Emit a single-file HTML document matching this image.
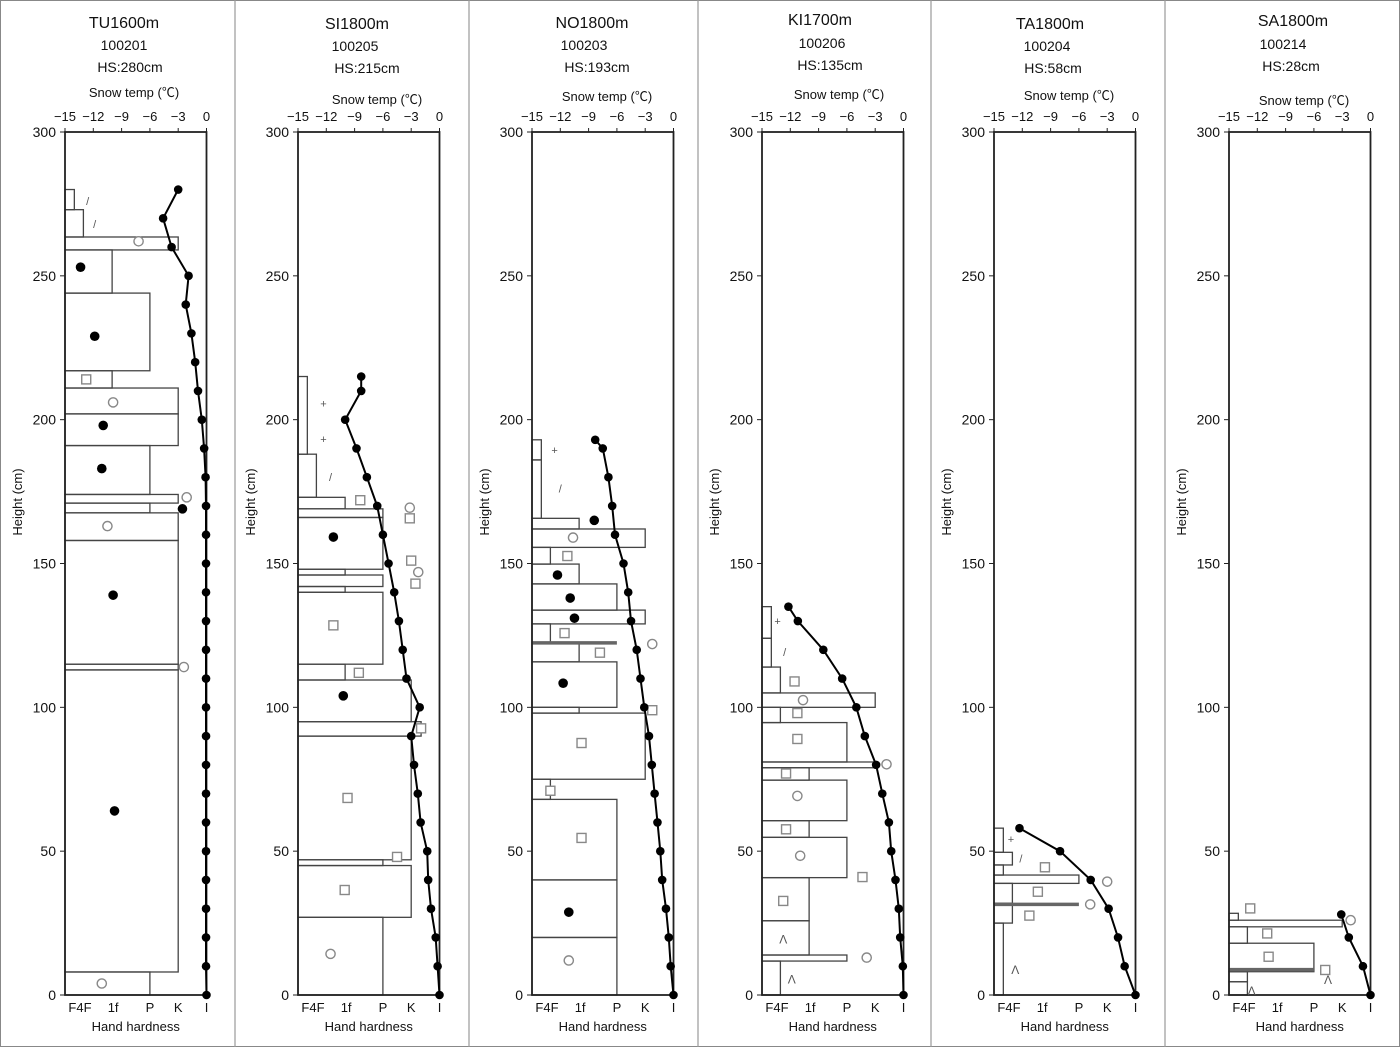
<!DOCTYPE html>
<html><head><meta charset="utf-8"><style>
body{margin:0;background:#fff;}
svg{display:block;font-family:"Liberation Sans","Noto Sans CJK JP",sans-serif;}
</style></head><body>
<svg id="chart" width="1400" height="1047" viewBox="0 0 1400 1047"></svg>
<script>
// ---- data ----
const panelTitles = ["TU1600m","SI1800m","NO1800m","KI1700m","TA1800m","SA1800m"];
const panelCodes = ["100201","100205","100203","100206","100204","100214"];
const panelHS = ["HS:280cm","HS:215cm","HS:193cm","HS:135cm","HS:58cm","HS:28cm"];
const yTicks = [0,50,100,150,200,250,300];
const tempTicks = [-15,-12,-9,-6,-3,0];
const hardLabels = ["F4F","1f","P","K","I"];
const hardLabelPos = [0.106,0.34,0.6,0.8,1.0];
const hardnessLevels = {F:0.066,"4F":0.13,"1F":0.333,P:0.6,K:0.8,"K+":0.87,I:1};

const p1Layers = [[280,273,"F"],[273,263.5,"4F"],[263.5,259,"K"],[259,244,"1F"],[244,217,"P"],[217,211,"1F"],[211,202,"K"],[202,191,"K"],[191,174,"P"],[174,171,"K"],[171,167.6,"P"],[167.6,158,"K"],[158,115,"K"],[115,113,"K"],[113,8,"K"],[8,0,"P"]];
const p2Layers = [[215,188,"F"],[188,173,"4F"],[173,169,"1F"],[169,166,"P"],[166,148,"P"],[148,146,"1F"],[146,142,"P"],[142,140,"1F"],[140,115,"P"],[115,109.5,"1F"],[109.5,95,"K"],[95,90,"K+"],[90,47,"K"],[47,45,"P"],[45,27,"K"],[27,0,"P"]];
const p3Layers = [[193,186,"F"],[186,165.7,"F"],[165.7,162,"1F"],[162,155.6,"K"],[155.6,149.8,"4F"],[149.8,142.9,"1F"],[142.9,133.8,"P"],[133.8,129,"K"],[129,122.6,"4F"],[122.3,115.8,"1F"],[115.8,100,"P"],[100,98,"1F"],[98,75,"K"],[75,68,"4F"],[68,40,"P"],[40,20,"P"],[20,0,"P"]];
const p4Layers = [[135,124,"F"],[124,114,"F"],[114,105,"4F"],[105,100,"K"],[100,94.7,"4F"],[94.7,81,"P"],[81,79,"K"],[79,74.7,"1F"],[74.7,60.6,"P"],[60.6,54.8,"1F"],[54.8,40.8,"P"],[40.8,25.8,"1F"],[25.8,13.9,"1F"],[13.9,11.8,"P"],[11.8,0,"4F"]];
const p5Layers = [[58,49.6,"F"],[49.6,45.2,"4F"],[45.2,41.7,"F"],[41.7,38.8,"P"],[38.8,31.9,"4F"],[31.9,25,"4F"],[25,0,"F"]];
const p6Layers = [[28.4,26,"F"],[26,23.7,"K"],[23.7,18,"4F"],[18,8.1,"P"],[8.1,4.6,"4F"],[4.6,0,"4F"]];
const p3Ice = [[122.4,"P"]];
const p5Ice = [[31.5,"P"]];
const p6Ice = [[8.8,"P"]];

const p1TempH = [280,270,260,250,240,230,220,210,200,190,180,170,160,150,140,130,120,110,100,90,80,70,60,50,40,30,20,10,0];
const p1TempV = [-3,-4.6,-3.7,-1.9,-2.2,-1.6,-1.2,-0.9,-0.5,-0.25,-0.1,-0.05,-0.05,-0.05,-0.05,-0.05,-0.05,-0.05,-0.05,-0.05,-0.05,-0.05,-0.05,-0.05,-0.05,-0.05,-0.05,-0.05,0];
const p2TempH = [215,210,200,190,180,170,160,150,140,130,120,110,100,90,80,70,60,50,40,30,20,10,0];
const p2TempV = [-8.3,-8.3,-10,-8.8,-7.7,-6.6,-6,-5.4,-4.8,-4.3,-3.9,-3.5,-2.1,-3.0,-2.7,-2.3,-2.0,-1.3,-1.2,-0.9,-0.4,-0.2,0];
const p3TempH = [193,190,180,170,160,150,140,130,120,110,100,90,80,70,60,50,40,30,20,10,0];
const p3TempV = [-8.3,-7.5,-6.9,-6.5,-6.2,-5.3,-4.8,-4.5,-3.9,-3.5,-3.1,-2.6,-2.3,-2.0,-1.7,-1.4,-1.2,-0.8,-0.5,-0.3,0];
const p4TempH = [135,130,120,110,100,90,80,70,60,50,40,30,20,10,0];
const p4TempV = [-12.2,-11.2,-8.5,-6.5,-5.0,-4.1,-2.9,-2.25,-1.55,-1.3,-0.85,-0.5,-0.35,-0.07,0];
const p5TempH = [58,50,40,30,20,10,0];
const p5TempV = [-12.3,-8.0,-4.75,-2.85,-1.85,-1.15,0];
const p6TempH = [28,20,10,0];
const p6TempV = [-3.1,-2.3,-0.8,0];

// grains: [height cm, hardness-axis position, type]
const p1Grains = [[276,.16,"/"],[268,.21,"/"],[262,.52,"o"],[253,.11,"f"],[229,.21,"f"],[214,.15,"s"],[206,.34,"o"],[198,.27,"f"],[183,.26,"f"],[173,.86,"o"],[169,.83,"f"],[163,.30,"o"],[139,.34,"f"],[114,.84,"o"],[64,.35,"f"],[4,.26,"o"]];
const p2Grains = [[205.7,.18,"+"],[193.2,.18,"+"],[180,.23,"/"],[172,.44,"s"],[169.4,.79,"o"],[165.7,.79,"s"],[159.2,.25,"f"],[151,.80,"s"],[147,.85,"o"],[143,.83,"s"],[128.5,.25,"s"],[112,.43,"s"],[104,.32,"f"],[92.7,.87,"s"],[68.5,.35,"s"],[48,.70,"s"],[36.5,.33,"s"],[14.3,.23,"o"]];
const p3Grains = [[189.4,.16,"+"],[176,.20,"/"],[165,.44,"f"],[159,.29,"o"],[152.6,.25,"s"],[146,.18,"f"],[138,.27,"f"],[131,.30,"f"],[125.8,.23,"s"],[122,.85,"o"],[119,.48,"s"],[108.4,.22,"f"],[99,.85,"s"],[87.6,.35,"s"],[71,.13,"s"],[54.6,.35,"s"],[28.8,.26,"f"],[12,.26,"o"]];
const p4Grains = [[130,.11,"+"],[119.3,.16,"/"],[109,.23,"s"],[102.5,.29,"o"],[98,.25,"s"],[89,.25,"s"],[80.2,.88,"o"],[77,.17,"s"],[69.2,.25,"o"],[57.6,.17,"s"],[48.4,.27,"o"],[41,.71,"s"],[32.7,.15,"s"],[19.7,.15,"^"],[13,.74,"o"],[5.8,.21,"^"]];
const p5Grains = [[54.2,.12,"+"],[47.5,.19,"/"],[44.4,.36,"s"],[39.4,.80,"o"],[35.9,.31,"s"],[31.5,.68,"o"],[27.6,.25,"s"],[9,.15,"^"]];
const p6Grains = [[30.1,.15,"s"],[26,.86,"o"],[21.4,.27,"s"],[13.3,.28,"s"],[8.7,.68,"s"],[5.6,.70,"^"],[1.7,.16,"^"]];

const allLayers=[p1Layers,p2Layers,p3Layers,p4Layers,p5Layers,p6Layers];
const allIce=[[],[],p3Ice,[],p5Ice,p6Ice];
const allTempH=[p1TempH,p2TempH,p3TempH,p4TempH,p5TempH,p6TempH];
const allTempV=[p1TempV,p2TempV,p3TempV,p4TempV,p5TempV,p6TempV];
const allGrains=[p1Grains,p2Grains,p3Grains,p4Grains,p5Grains,p6Grains];

// ---- layout ----
const plotLefts=[65,298,532,762,994,1229];
const plotW=141.5, plotTop=132, plotBot=995;
const titleY=[[22,45,67,92],[23,46,68,99],[22,45,67,96],[19,43,65,94],[23,46,68,95],[20,44,66,100]];
const titleX=[[124,124,130,134],[357,355,367,377],[592,584,597,607],[820,822,830,839],[1050,1047,1053,1069],[1293,1283,1291,1304]];
const seps=[235,469,698,931,1165];

const NS="http://www.w3.org/2000/svg";
const svg=document.getElementById("chart");
function mk(tag,attrs,parent,name,inter){
  const e=document.createElementNS(NS,tag);
  for(const k in attrs)e.setAttribute(k,attrs[k]);
  
  
  (parent||svg).appendChild(e);return e;
}
function txt(x,y,s,size,anchor,parent,name){
  const t=mk("text",{x:x,y:y,"font-size":size,"text-anchor":anchor||"middle",fill:"#111"},parent,name,false);
  t.textContent=s;return t;
}
mk("rect",{x:0.5,y:0.5,width:1399,height:1046,fill:"none",stroke:"#888","stroke-width":1},svg,"figure-border",false);
seps.forEach(x=>{mk("line",{x1:x,y1:0,x2:x,y2:1047,stroke:"#999","stroke-width":1.2},svg,"panel-separator",false);});

for(let p=0;p<6;p++){
  const L=plotLefts[p];
  const g=mk("g",{},svg,"panel-"+panelTitles[p].toLowerCase(),false);
  const yS=cm=>plotBot-cm*(plotBot-plotTop)/300;
  const tS=t=>L+plotW+t*plotW/15;
  const hS=f=>L+f*plotW;
  txt(titleX[p][0],titleY[p][0]+6,panelTitles[p],16,"middle",g,"panel-title");
  txt(titleX[p][1],titleY[p][1]+5,panelCodes[p],14,"middle",g,"date-code");
  txt(titleX[p][2],titleY[p][2]+5,panelHS[p],14,"middle",g,"snow-height-label");
  txt(titleX[p][3],titleY[p][3]+5,"Snow temp (℃)",13,"middle",g,"x-top-axis-title");
  tempTicks.forEach(t=>{
    txt(tS(t),121,(t<0?"−":"")+Math.abs(t),13,"middle",g,"temp-tick-label");
    mk("line",{x1:tS(t),y1:plotTop,x2:tS(t),y2:plotTop-4,stroke:"#222"},g,"temp-tick",false);
  });
  yTicks.forEach(v=>{
    txt(L-9,yS(v)+5,String(v),14,"end",g,"y-tick-label");
    mk("line",{x1:L,y1:yS(v),x2:L-5,y2:yS(v),stroke:"#222"},g,"y-tick",false);
  });
  const yt=txt(0,0,"Height (cm)",13,"middle",g,"y-axis-title");
  yt.setAttribute("transform","translate("+(L-43)+",502) rotate(-90)");
  hardLabels.forEach((s,i)=>{txt(hS(hardLabelPos[i]),1012,s,13,"middle",g,"hardness-tick-label");});
  txt(L+plotW/2,1031,"Hand hardness",13,"middle",g,"x-bottom-axis-title");
  allLayers[p].forEach(l=>{
    const x2=hS(hardnessLevels[l[2]]);
    mk("rect",{x:L,y:yS(l[0]),width:x2-L,height:yS(l[1])-yS(l[0]),fill:"none",stroke:"#444","stroke-width":1.3},g,"hardness-layer",false);
  });
  allIce[p].forEach(l=>{
    mk("line",{x1:L,y1:yS(l[0]),x2:hS(hardnessLevels[l[1]]),y2:yS(l[0]),stroke:"#666","stroke-width":3.5},g,"ice-layer",false);
  });
  mk("rect",{x:L,y:plotTop,width:plotW,height:plotBot-plotTop,fill:"none",stroke:"#222","stroke-width":1.8},g,"plot-frame",false);
  allGrains[p].forEach(s=>{
    const x=hS(s[1]),y=yS(s[0]);
    if(s[2]==="o")mk("circle",{cx:x,cy:y,r:4.6,fill:"#fff",stroke:"#888","stroke-width":1.4},g,"grain-rounded",false);
    else if(s[2]==="f")mk("circle",{cx:x,cy:y,r:4.8,fill:"#000"},g,"grain-melt-form",false);
    else if(s[2]==="s")mk("rect",{x:x-4.5,y:y-4.5,width:9,height:9,fill:"#fff",stroke:"#888","stroke-width":1.4},g,"grain-faceted",false);
    else if(s[2]==="^")txt(x,y+5,"Λ",12,"middle",g,"grain-depth-hoar").setAttribute("fill","#555");
    else txt(x,y+4,s[2],11,"middle",g,"grain-symbol").setAttribute("fill","#555");
  });
  const H=allTempH[p],V=allTempV[p];
  const pts=H.map((h,i)=>tS(V[i]).toFixed(1)+","+yS(h).toFixed(1)).join(" ");
  mk("polyline",{points:pts,fill:"none",stroke:"#000","stroke-width":2},g,"snow-temp-line",false);
  H.forEach((h,i)=>{mk("circle",{cx:tS(V[i]),cy:yS(h),r:4.3,fill:"#000"},g,"snow-temp-point",false);});
}
</script>
</body></html>
